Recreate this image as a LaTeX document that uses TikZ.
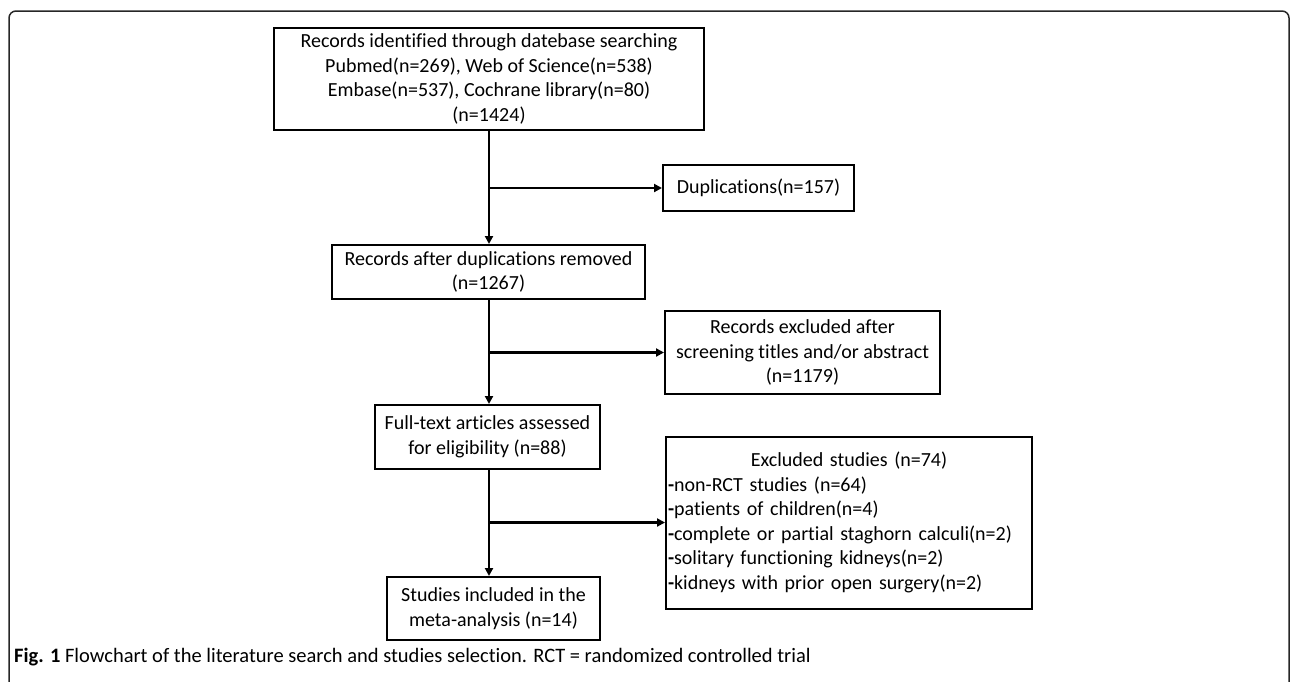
\documentclass[tikz,border=0pt]{standalone}
\usepackage{fontspec}
\setmainfont{Carlito}[Ligatures={NoCommon,NoContextual}]
\usetikzlibrary{arrows.meta}
\begin{document}
\begin{tikzpicture}[x=1pt,y=-1pt,
  box/.style={draw=black, line width=2pt, inner sep=0pt, align=center,
    font=\fontsize{20}{24.5}\selectfont},
  conn/.style={line width=2.2pt, -{Triangle[length=8pt,width=8pt]}}]
\useasboundingbox (0,0) rectangle (1290,681);
\draw[line width=1.5pt, rounded corners=7pt, draw=black!85] (9,700) -- (9,11) -- (1289,11) -- (1289,700);

\node[box, minimum width=430pt, minimum height=102pt] (b1) at (489,79)
  {Records identified through datebase searching\\
   Pubmed(n=269), Web of Science(n=538)\\
   Embase(n=537), Cochrane library(n=80)\\
   (n=1424)};
\node[box, minimum width=191pt, minimum height=46pt] (dup) at (758.5,188)
  {Duplications(n=157)};
\node[box, minimum width=313pt, minimum height=54pt] (b2) at (488.5,272)
  {Records after duplications removed\\(n=1267)};
\node[box, minimum width=275pt, minimum height=83pt] (b3) at (802.5,352.5)
  {Records excluded after\\screening titles and/or abstract\\(n=1179)};
\node[box, minimum width=225pt, minimum height=64pt] (b4) at (487.5,437)
  {Full-text articles assessed\\for eligibility (n=88)};
\node[box, anchor=west, minimum height=172pt, text width=362pt, inner xsep=2pt, align=left] (b5) at (665,522.5)
  {\makebox[\linewidth]{Excluded studies (n=74)}\\
   \textbf{-}non-RCT studies (n=64)\\
   \textbf{-}patients of children(n=4)\\
   \textbf{-}complete or partial staghorn calculi(n=2)\\
   \textbf{-}solitary functioning kidneys(n=2)\\
   \textbf{-}kidneys with prior open surgery(n=2)};
\node[box, minimum width=213pt, minimum height=63pt] (b6) at (493.5,608.5)
  {Studies included in the\\meta-analysis (n=14)};

\coordinate (j1) at (b1.south |- dup.west);
\coordinate (j2) at (b1.south |- b3.west);
\coordinate (j3) at (b1.south |- b5.west);

\draw[conn] (b1.south) -- (b1.south |- b2.north);
\draw[conn] (b1.south |- b2.south) -- (b1.south |- b4.north);
\draw[conn] (b1.south |- b4.south) -- (b1.south |- b6.north);
\draw[conn] (j1) -- (dup.west);
\draw[conn] (j2) -- (b3.west);
\draw[conn] (j3) -- (b5.west);

\node[anchor=west, inner sep=0pt, font=\fontsize{20.5}{22}\selectfont] (cap) at (14,657)
  {\textbf{Fig. 1} Flowchart of the literature search and studies selection. RCT = randomized controlled trial};
\end{tikzpicture}
\end{document}
